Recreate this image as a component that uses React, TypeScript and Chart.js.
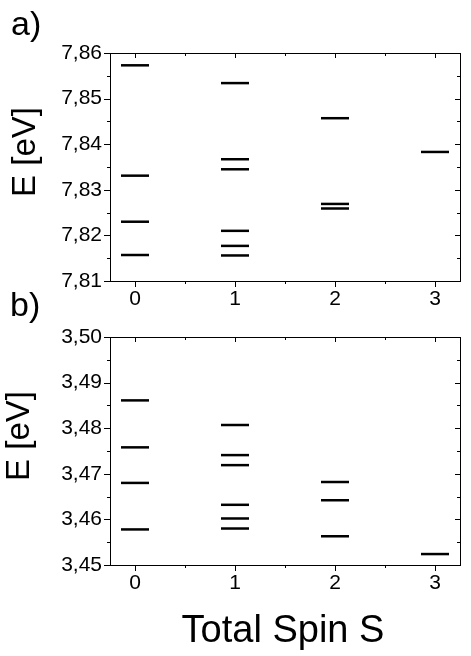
import React, { useEffect, useRef } from "react";
import { Chart, registerables } from "chart.js";

Chart.register(...registerables);

// ---- data ----
const SPINS = [0, 1, 2, 3];
const X_TICKS = [0, 1, 2, 3];

const LEVELS_A_S0 = [7.8573, 7.8331, 7.823, 7.8157];
const LEVELS_A_S1 = [7.8534, 7.8367, 7.8345, 7.821, 7.8177, 7.8156];
const LEVELS_A_S2 = [7.8457, 7.8269, 7.8259];
const LEVELS_A_S3 = [7.8383];

const LEVELS_B_S0 = [3.4861, 3.4758, 3.468, 3.4578];
const LEVELS_B_S1 = [3.4807, 3.4741, 3.4719, 3.4632, 3.4602, 3.458];
const LEVELS_B_S2 = [3.4682, 3.4642, 3.4563];
const LEVELS_B_S3 = [3.4524];

const Y_TICKS_A = [7.81, 7.82, 7.83, 7.84, 7.85, 7.86];
const Y_TICKS_B = [3.45, 3.46, 3.47, 3.48, 3.49, 3.5];

const PANEL_LABEL_A = "a)";
const PANEL_LABEL_B = "b)";
const Y_TITLE = "E [eV]";
const X_TITLE = "Total Spin S";

// ---- style ----
const W = 471;
const H = 656;
const HALF = 0.14;
const FAMILY = '"Liberation Sans", Arial, Helvetica, sans-serif';
const font = (s: number) => `${s}px ${FAMILY}`;

type PanelSpec = {
  levels: number[][];
  yTicks: number[];
  area: { left: number; right: number; top: number; bottom: number };
  label: string;
  labelPos: [number, number];
  yTitlePos: [number, number];
  xTitle?: { text: string; x: number; y: number };
};

function makePlugin(spec: PanelSpec) {
  return {
    id: "frameTicks",
    afterDraw(chart: any) {
      const { ctx, chartArea: a, scales } = chart;
      const xs = scales.x;
      const ys = scales.y;
      const L = Math.round(a.left);
      const R = Math.round(a.right);
      const T = Math.round(a.top);
      const B = Math.round(a.bottom);
      ctx.save();
      ctx.strokeStyle = "#000";
      ctx.lineWidth = 1;
      ctx.strokeRect(L + 0.5, T + 0.5, R - L, B - T);
      ctx.beginPath();
      // x ticks
      X_TICKS.forEach((v) => {
        const px = Math.round(xs.getPixelForValue(v)) + 0.5;
        ctx.moveTo(px, B);
        ctx.lineTo(px, B + 6);
        ctx.moveTo(px, T);
        ctx.lineTo(px, T + 5);
      });
      for (let i = 0; i < X_TICKS.length - 1; i++) {
        const m = (X_TICKS[i] + X_TICKS[i + 1]) / 2;
        const px = Math.round(xs.getPixelForValue(m)) + 0.5;
        ctx.moveTo(px, B);
        ctx.lineTo(px, B + 3);
        ctx.moveTo(px, T);
        ctx.lineTo(px, T + 3);
      }
      // y ticks
      spec.yTicks.forEach((v) => {
        const py = Math.round(ys.getPixelForValue(v)) + 0.5;
        ctx.moveTo(L - 6, py);
        ctx.lineTo(L, py);
        ctx.moveTo(R - 5, py);
        ctx.lineTo(R, py);
      });
      for (let i = 0; i < spec.yTicks.length - 1; i++) {
        const m = (spec.yTicks[i] + spec.yTicks[i + 1]) / 2;
        const py = Math.round(ys.getPixelForValue(m)) + 0.5;
        ctx.moveTo(L - 3, py);
        ctx.lineTo(L, py);
        ctx.moveTo(R - 3, py);
        ctx.lineTo(R, py);
      }
      ctx.stroke();

      // texts
      ctx.fillStyle = "#000";
      ctx.textBaseline = "alphabetic";
      ctx.textAlign = "left";
      ctx.font = font(34);
      ctx.fillText(spec.label, spec.labelPos[0], spec.labelPos[1]);

      ctx.save();
      ctx.translate(spec.yTitlePos[0], spec.yTitlePos[1]);
      ctx.rotate(-Math.PI / 2);
      ctx.textAlign = "center";
      ctx.font = font(33);
      ctx.fillText(Y_TITLE, 0, 0);
      ctx.restore();

      if (spec.xTitle) {
        ctx.textAlign = "center";
        ctx.font = font(38);
        ctx.fillText(spec.xTitle.text, spec.xTitle.x, spec.xTitle.y);
      }
      ctx.restore();
    },
  };
}

function buildConfig(spec: PanelSpec): any {
  const datasets: any[] = [];
  spec.levels.forEach((group, i) => {
    const s = SPINS[i];
    group.forEach((e) => {
      datasets.push({
        data: [
          { x: s - HALF, y: e },
          { x: s + HALF, y: e },
        ],
        showLine: true,
        borderColor: "#000",
        backgroundColor: "#000",
        borderWidth: 2.5,
        borderCapStyle: "butt",
        pointRadius: 0,
        pointHoverRadius: 0,
      });
    });
  });
  const { area } = spec;
  return {
    type: "scatter",
    data: { datasets },
    options: {
      animation: false,
      responsive: false,
      devicePixelRatio: 1,
      events: [],
      layout: {
        padding: { left: 0, right: W - area.right, top: area.top, bottom: 0 },
      },
      plugins: {
        legend: { display: false },
        tooltip: { enabled: false },
      },
      scales: {
        x: {
          type: "linear",
          min: -0.25,
          max: 3.25,
          afterBuildTicks: (sc: any) => {
            sc.ticks = X_TICKS.map((v) => ({ value: v }));
          },
          afterFit: (sc: any) => {
            sc.height = H - area.bottom;
          },
          grid: { display: false, drawTicks: false },
          border: { display: false },
          ticks: {
            padding: 6,
            color: "#000",
            font: { family: FAMILY, size: 21 },
            maxRotation: 0,
            callback: (v: number) => String(v),
          },
        },
        y: {
          type: "linear",
          min: spec.yTicks[0],
          max: spec.yTicks[spec.yTicks.length - 1],
          afterBuildTicks: (sc: any) => {
            sc.ticks = spec.yTicks.map((v) => ({ value: v }));
          },
          afterFit: (sc: any) => {
            sc.width = area.left;
          },
          grid: { display: false, drawTicks: false },
          border: { display: false },
          ticks: {
            padding: 8,
            color: "#000",
            font: { family: FAMILY, size: 21 },
            callback: (v: number) => Number(v).toFixed(2).replace(".", ","),
          },
        },
      },
    },
    plugins: [makePlugin(spec)],
  };
}

const SPEC_A: PanelSpec = {
  levels: [LEVELS_A_S0, LEVELS_A_S1, LEVELS_A_S2, LEVELS_A_S3],
  yTicks: Y_TICKS_A,
  area: { left: 110, right: 460, top: 53, bottom: 281 },
  label: PANEL_LABEL_A,
  labelPos: [11, 35],
  yTitlePos: [35, 152],
};

const SPEC_B: PanelSpec = {
  levels: [LEVELS_B_S0, LEVELS_B_S1, LEVELS_B_S2, LEVELS_B_S3],
  yTicks: Y_TICKS_B,
  area: { left: 110, right: 460, top: 337, bottom: 565 },
  label: PANEL_LABEL_B,
  labelPos: [10, 316],
  yTitlePos: [29, 436],
  xTitle: { text: X_TITLE, x: 283, y: 642 },
};

export default function App() {
  const refA = useRef<HTMLCanvasElement | null>(null);
  const refB = useRef<HTMLCanvasElement | null>(null);

  useEffect(() => {
    const charts: Chart[] = [];
    if (refA.current) charts.push(new Chart(refA.current, buildConfig(SPEC_A)));
    if (refB.current) charts.push(new Chart(refB.current, buildConfig(SPEC_B)));
    return () => charts.forEach((c) => c.destroy());
  }, []);

  const canvasStyle: React.CSSProperties = {
    position: "absolute",
    left: 0,
    top: 0,
    width: W,
    height: H,
  };

  return (
    <div
      style={{
        position: "absolute",
        left: 0,
        top: 0,
        width: W,
        height: H,
        background: "#fff",
      }}
    >
      <canvas ref={refA} width={W} height={H} style={canvasStyle} />
      <canvas ref={refB} width={W} height={H} style={canvasStyle} />
    </div>
  );
}
